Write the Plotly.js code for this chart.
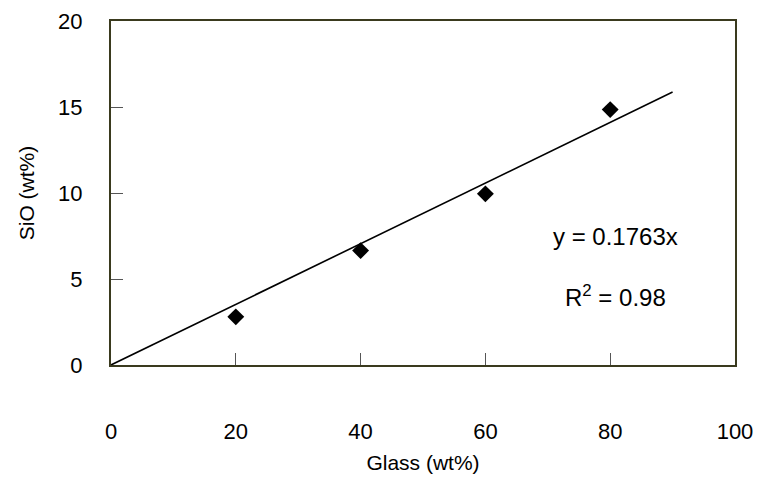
<!DOCTYPE html>
<html>
<head>
<meta charset="utf-8">
<script src="https://cdn.plot.ly/plotly-3.0.1.min.js"></script>
<style>
  html, body { margin: 0; padding: 0; background: #ffffff; }
  #chart { width: 761px; height: 497px; }
</style>
</head>
<body>
<div id="chart"></div>
<script>
// Measured SiO content against glass content
const glassPct = [20, 40, 60, 80];
const sioPct = [2.8, 6.65, 9.95, 14.85];

// Linear fit through the origin
const slope = 0.1763;
const rSquared = 0.98;
const fitX = [0, 90];
const fitY = fitX.map(x => slope * x);

const xTicks = [0, 20, 40, 60, 80, 100];
const yTicks = [0, 5, 10, 15, 20];

const family = 'Liberation Sans, Arial, sans-serif';
const tickFont = { family: family, size: 22, color: '#000000' };
const titleFont = { family: family, size: 21, color: '#000000' };
const noteFont = { family: family, size: 24, color: '#000000' };
const frameColor = '#3a3a1e';

const traces = [
  {
    x: fitX, y: fitY, mode: 'lines', type: 'scatter',
    line: { color: '#000000', width: 1.6 },
    hoverinfo: 'skip', showlegend: false
  },
  {
    x: glassPct, y: sioPct, mode: 'markers', type: 'scatter',
    marker: { symbol: 'diamond', size: 13, color: '#000000' },
    showlegend: false
  }
];

const layout = {
  width: 761, height: 497,
  margin: { l: 111, r: 26, t: 21, b: 132 },
  paper_bgcolor: '#ffffff', plot_bgcolor: '#ffffff',
  font: tickFont,
  showlegend: false,
  xaxis: {
    range: [0, 100],
    tickvals: xTicks,
    ticktext: xTicks.map(String),
    ticks: 'inside', ticklen: 12, tickcolor: '#555555', tickwidth: 1,
    ticklabelstandoff: 46,
    showgrid: false, zeroline: false,
    showline: true, linecolor: frameColor, linewidth: 2, mirror: true,
    tickfont: tickFont,
    title: { text: 'Glass (wt%)', font: titleFont, standoff: 12 }
  },
  yaxis: {
    range: [0, 20],
    tickvals: yTicks,
    ticktext: yTicks.map(String),
    ticks: 'inside', ticklen: 12, tickcolor: '#555555', tickwidth: 1,
    ticklabelstandoff: 22,
    showgrid: false, zeroline: false,
    showline: true, linecolor: frameColor, linewidth: 2, mirror: true,
    tickfont: tickFont,
    title: { text: 'SiO (wt%)', font: titleFont, standoff: 18 }
  },
  annotations: [
    {
      x: 80.9, y: 7.5, xref: 'x', yref: 'y',
      text: 'y = ' + slope + 'x',
      showarrow: false, font: noteFont
    },
    {
      x: 80.9, y: 4.0, xref: 'x', yref: 'y',
      text: 'R<sup>2</sup> = ' + rSquared.toFixed(2),
      showarrow: false, font: noteFont
    }
  ]
};

Plotly.newPlot('chart', traces, layout, { displayModeBar: false, staticPlot: true });
</script>
</body>
</html>
